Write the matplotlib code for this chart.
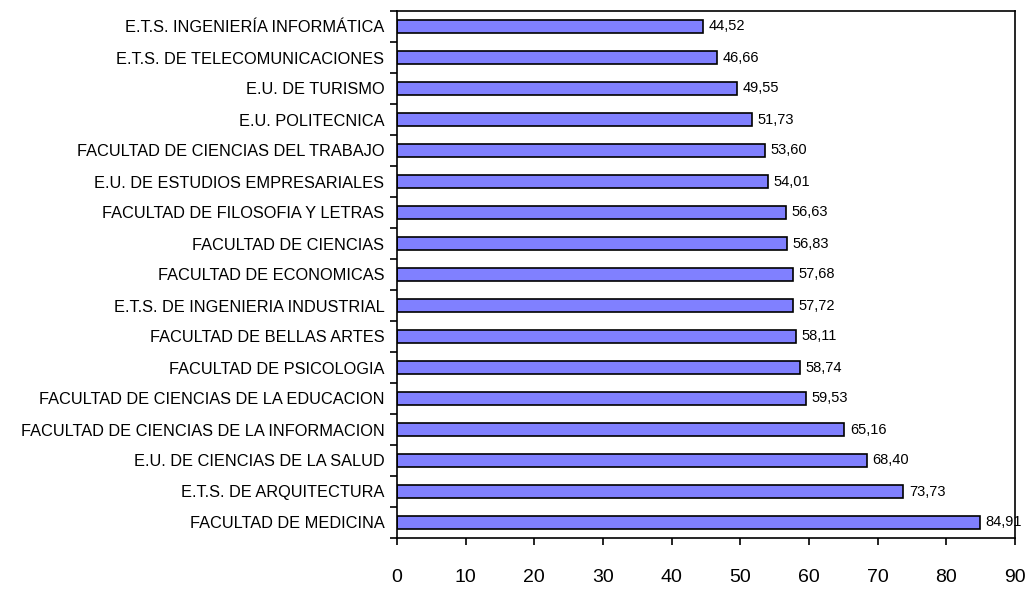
import matplotlib.pyplot as plt
import numpy as np

plt.rcParams['font.family'] = ['Liberation Sans', 'DejaVu Sans']

centros = [
    "FACULTAD DE MEDICINA",
    "E.T.S. DE ARQUITECTURA",
    "E.U. DE CIENCIAS DE LA SALUD",
    "FACULTAD DE CIENCIAS DE LA INFORMACION",
    "FACULTAD DE CIENCIAS DE LA EDUCACION",
    "FACULTAD DE PSICOLOGIA",
    "FACULTAD DE BELLAS ARTES",
    "E.T.S. DE INGENIERIA INDUSTRIAL",
    "FACULTAD DE ECONOMICAS",
    "FACULTAD DE CIENCIAS",
    "FACULTAD DE FILOSOFIA Y LETRAS",
    "E.U. DE ESTUDIOS EMPRESARIALES",
    "FACULTAD DE CIENCIAS DEL TRABAJO",
    "E.U. POLITECNICA",
    "E.U. DE TURISMO",
    "E.T.S. DE TELECOMUNICACIONES",
    "E.T.S. INGENIERÍA INFORMÁTICA",
]
valores = [84.91, 73.73, 68.40, 65.16, 59.53, 58.74, 58.11, 57.72, 57.68,
           56.83, 56.63, 54.01, 53.60, 51.73, 49.55, 46.66, 44.52]

fig = plt.figure(figsize=(10.30, 6.11), dpi=100)
ax = fig.add_axes([397/1030, 1 - 538/611, (1015-397)/1030, (538-11)/611])

y = np.arange(len(centros))
ax.barh(y, valores, height=0.44, color='#8080FF', edgecolor='black', linewidth=1.2)

for yi, v in zip(y, valores):
    ax.text(v + 0.8, yi, f"{v:.2f}".replace('.', ','), va='center', ha='left', fontsize=10.5)

ax.set_xlim(0, 90)
ax.set_ylim(-0.5, len(centros) - 0.5)
ax.set_xticks(np.arange(0, 91, 10))
ax.tick_params(axis='x', labelsize=14, direction='out', length=5, width=1.2, pad=17)

ax.set_yticks(y)
ax.set_yticklabels(centros, fontsize=11.8)
ax.tick_params(axis='y', length=0, pad=9)
ax.set_yticks(np.arange(-0.5, len(centros)), minor=True)
ax.tick_params(axis='y', which='minor', direction='out', length=5, width=1.2)

for s in ax.spines.values():
    s.set_linewidth(1.2)

fig.savefig('out.png', dpi=100)
